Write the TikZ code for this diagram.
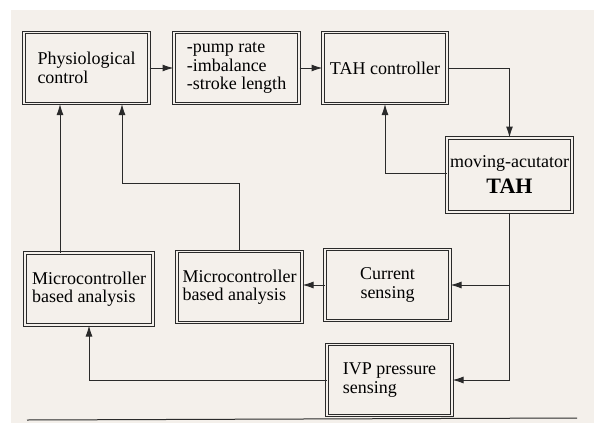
\documentclass[tikz,border=0pt]{standalone}
\usepackage{fontspec}
\setmainfont{Liberation Serif}
\usetikzlibrary{arrows.meta,positioning}
\definecolor{ScanPaper}{HTML}{F4F0EB}
\definecolor{InkGray}{HTML}{2A2A2A}
\tikzset{%
  block/.style={draw=InkGray,double=ScanPaper,double distance=1.4pt,line width=1pt,
    fill=ScanPaper,align=center,minimum width=125pt,minimum height=71pt,
    inner sep=2pt,font=\fontsize{18}{18.5}\selectfont},
  leftblock/.style={block,align=left},
  flow/.style={-{Latex[length=11pt,width=7pt]},line width=1pt,InkGray}
}

\begin{document}
\begin{tikzpicture}[x=1pt,y=1pt]
      \useasboundingbox (0,0) rectangle (594,-423);
      \fill[white] (0,0) rectangle (594,-423);
      \fill[ScanPaper] (11,-10) rectangle (594,-423);
      % top row
      \node[leftblock] (phys) at (86.5,-68) {Physiological\\control};
      \node[leftblock] (pump) at (236.5,-68) {-pump rate\\-imbalance\\-stroke length};
      \node[block, minimum width=124pt] (ctrl) at (385,-68) {TAH controller};
      \node[block, minimum height=74pt, inner sep=0pt, font=\fontsize{18}{26}\selectfont] (tah) at (509.5,-175)
        {moving-acutator\\{\fontsize{22}{24}\selectfont\bfseries TAH}};
      % sensing and analysis
      \node[block] (cur) at (387.5,-285) {Current\\sensing};
      \node[leftblock] (ivp) at (389.5,-380) {IVP pressure\\sensing};
      \node[leftblock, minimum width=128pt, minimum height=72pt] (mcone) at (89,-289) {Microcontroller\\based analysis};
      \node[leftblock] (mctwo) at (239.5,-287) {Microcontroller\\based analysis};
      \coordinate (bend) at (122,-183);
      \draw[flow] (phys) -- (pump);
      \draw[flow] (pump) -- (ctrl);
      \draw[flow] (ctrl.east) -| (tah.north);
      \draw[flow] ([yshift=2pt]tah.west) -| (ctrl.south);
      \draw[flow] (tah.south) |- (ivp.east);
      \draw[flow] (tah.south |- cur.east) -- (cur.east);
      \draw[flow] (cur.west) -- (cur.west -| mctwo.east);
      \draw[flow] (ivp.west) -| (mcone.south);
      \draw[flow] ([xshift=-29pt]mcone.north) -- ([xshift=-29pt]mcone.north |- phys.south);
      \draw[flow] (mctwo.north) |- (bend) -- (bend |- phys.south);
      \draw[line width=1pt,InkGray] (27,-420) -- (577,-418);
    \end{tikzpicture}
\end{document}
